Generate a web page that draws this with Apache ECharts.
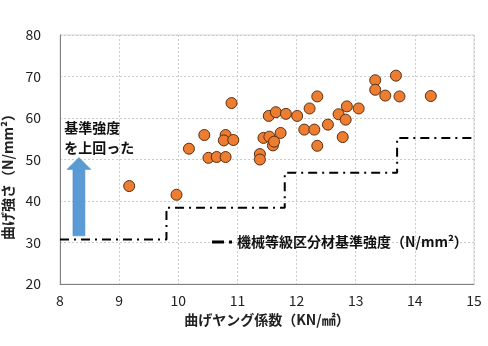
<!DOCTYPE html>
<html><head><meta charset="utf-8">
<script src="https://cdn.jsdelivr.net/npm/echarts@6/dist/echarts.min.js"></script>
<style>html,body{margin:0;padding:0;background:#fff}#c{width:488px;height:346px}</style>
</head><body><div id="c"></div>
<script>
// Measured specimens: bending Young's modulus (kN/mm2) and bending strength (N/mm2)
const youngX = [9.17, 9.97, 10.18, 10.44, 10.51, 10.65, 10.80, 10.80, 10.77, 10.93, 10.90,
  11.38, 11.38, 11.44, 11.53, 11.54, 11.60, 11.62, 11.65, 11.73, 11.82, 12.01, 12.13, 12.22,
  12.30, 12.35, 12.35, 12.53, 12.71, 12.78, 12.83, 12.85, 13.05, 13.33, 13.33, 13.50, 13.68,
  13.74, 14.27];
const strengthY = [43.6, 41.5, 52.6, 55.9, 50.4, 50.6, 50.6, 55.9, 54.6, 54.7, 63.6,
  51.3, 50.0, 55.2, 60.5, 55.5, 53.4, 54.3, 61.4, 56.4, 61.0, 60.5, 57.2, 62.3,
  57.2, 65.2, 53.3, 58.4, 60.9, 55.4, 59.6, 62.8, 62.3, 69.1, 66.8, 65.4, 70.2,
  65.2, 65.3];
// Machine-graded lumber standard strength (step line)
const stdX = [8, 9.8, 11.8, 13.7, 15];
const stdY = [30.7, 38.4, 46.8, 55.2, 55.2];
const xTicks = {min: 8, max: 15, interval: 1};
const yTicks = {min: 20, max: 80, interval: 10};
const xName = '曲げヤング係数（KN/㎟）';
const yName = '曲げ強さ（N/mm²）';
const stdName = '機械等級区分材基準強度（N/mm²）';
const noteText = '基準強度\nを上回った';
const arrowFrom = [8.32, 31.6];
const arrowTo = [8.32, 50.5];

const font = '"Noto Sans CJK JP", "Noto Sans", sans-serif';
const chart = echarts.init(document.getElementById('c'));
const scatterData = youngX.map((x, i) => [x, strengthY[i]]);
const stdData = stdX.map((x, i) => [x, stdY[i]]);
chart.setOption({
  animation: false,
  textStyle: {fontFamily: font},
  grid: {left: 60, right: 14, top: 35, bottom: 62, show: true, borderColor: '#d6d6d6', borderWidth: 1,
    containLabel: false, outerBoundsMode: 'none'},
  legend: {
    data: [{name: stdName, icon: 'path://M0,0 H12 V3 H0 Z M17,0 H20 V3 H17 Z'}],
    left: 207, top: 230, itemWidth: 20, itemHeight: 3, itemGap: 6,
    itemStyle: {color: '#000'},
    textStyle: {fontSize: 14, color: '#111', fontWeight: 'bold', fontFamily: font}
  },
  xAxis: {
    type: 'value', min: xTicks.min, max: xTicks.max, interval: xTicks.interval,
    name: xName, nameLocation: 'middle', nameGap: 27,
    nameTextStyle: {fontSize: 14, color: '#222', fontWeight: 'bold', fontFamily: font},
    axisLine: {lineStyle: {color: '#808080', width: 1}},
    axisTick: {show: false},
    axisLabel: {fontSize: 14, color: '#222', margin: 10, fontFamily: font},
    splitLine: {lineStyle: {color: '#cccccc', type: [2, 2]}}
  },
  yAxis: {
    type: 'value', min: yTicks.min, max: yTicks.max, interval: yTicks.interval,
    name: yName, nameLocation: 'middle', nameGap: 40, nameRotate: 90,
    nameTextStyle: {fontSize: 14, color: '#222', fontWeight: 'bold', fontFamily: font, padding: [0, 28, 0, 0]},
    axisLine: {show: true, lineStyle: {color: '#808080', width: 1}},
    axisTick: {show: false},
    axisLabel: {fontSize: 14, color: '#222', margin: 19, fontFamily: font},
    splitLine: {lineStyle: {color: '#cccccc', type: [2, 2]}}
  },
  series: [
    {
      name: stdName, type: 'line', step: 'end', data: stdData, showSymbol: false, symbol: 'none',
      lineStyle: {color: '#000', width: 2, type: [9, 5, 2, 5]}, itemStyle: {color: '#000'}, z: 2
    },
    {
      name: 'data', type: 'scatter', data: scatterData, symbolSize: 11,
      itemStyle: {color: '#ED7D31', borderColor: '#5a2e10', borderWidth: 1, opacity: 1}, z: 3
    }
  ]
});
function drawOverlay() {
  const p0 = chart.convertToPixel({gridIndex: 0}, arrowFrom);
  const p1 = chart.convertToPixel({gridIndex: 0}, arrowTo);
  const cx = p0[0], yb = p0[1], yt = p1[1];
  const headH = 12, headW = 12, shaftW = 6;
  const pts = [[cx - shaftW, yb], [cx - shaftW, yt + headH], [cx - headW, yt + headH], [cx, yt],
    [cx + headW, yt + headH], [cx + shaftW, yt + headH], [cx + shaftW, yb]];
  const tp = chart.convertToPixel({gridIndex: 0}, [8.07, 60.0]);
  chart.setOption({graphic: [
    {type: 'polygon', shape: {points: pts}, style: {fill: '#5B9BD5', stroke: '#4a86c0', lineWidth: 0.5}, z: 10},
    {type: 'text', x: tp[0], y: tp[1], style: {text: noteText, fontSize: 14, fontWeight: 'bold', fill: '#111', fontFamily: font, lineHeight: 20}, z: 10}
  ]});
}
drawOverlay();
</script></body></html>
